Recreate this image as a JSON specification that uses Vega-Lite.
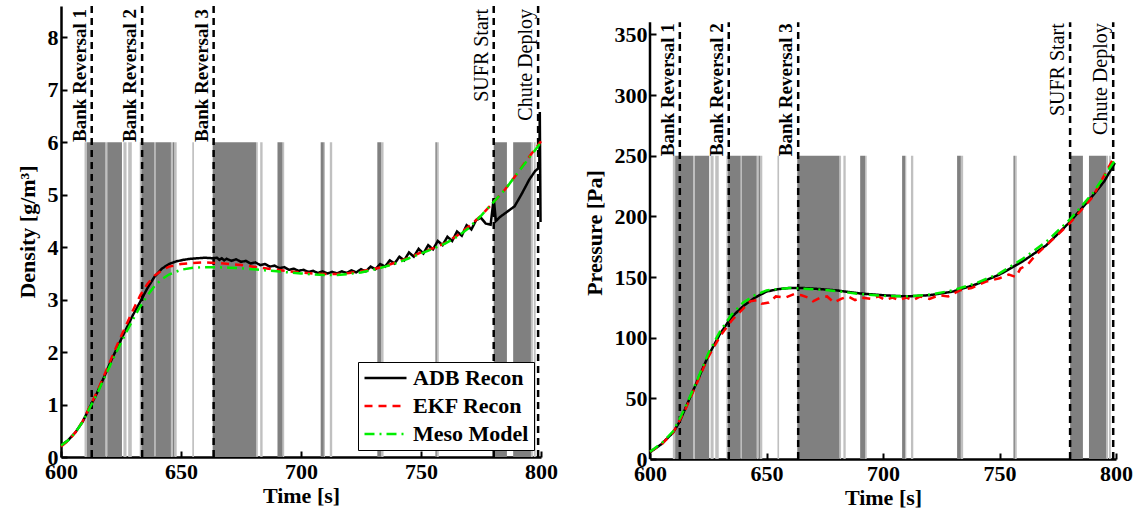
{
  "$schema": "https://vega.github.io/schema/vega-lite/v6.json",
  "background": "white",
  "padding": {"left": 16, "right": 5, "top": 4, "bottom": 5},
  "spacing": 25,
  "config": {
    "view": {"stroke": null},
    "axis": {
      "labelFont": "Liberation Serif", "labelFontWeight": "bold", "labelFontSize": 22, "labelColor": "black",
      "titleFont": "Liberation Serif", "titleFontWeight": "bold", "titleFontSize": 22, "titleColor": "black",
      "domainColor": "black", "domainWidth": 2.5, "tickColor": "black", "tickWidth": 2, "tickSize": -6, "grid": false, "labelFlush": false
    },
    "legend": {
      "labelFont": "Liberation Serif", "labelFontWeight": "bold", "labelFontSize": 22, "labelColor": "black",
      "symbolType": "stroke", "symbolSize": 1764, "symbolStrokeWidth": 2.5, "clipHeight": 22,
      "strokeColor": "black", "fillColor": "white", "padding": 5, "rowPadding": 6, "labelOffset": 5, "labelLimit": 300
    }
  },
  "datasets": {
    "bands": [
      {"t": 609.8, "t2": 610.8, "shade": "light"},
      {"t": 610.8, "t2": 618.5, "shade": "dark"},
      {"t": 618.5, "t2": 619.3, "shade": "light"},
      {"t": 619.3, "t2": 625.4, "shade": "dark"},
      {"t": 626.0, "t2": 627.3, "shade": "light"},
      {"t": 628.0, "t2": 629.5, "shade": "light"},
      {"t": 632.8, "t2": 633.5, "shade": "light"},
      {"t": 633.5, "t2": 638.9, "shade": "dark"},
      {"t": 638.9, "t2": 639.4, "shade": "light"},
      {"t": 639.4, "t2": 645.8, "shade": "dark"},
      {"t": 645.8, "t2": 646.6, "shade": "light"},
      {"t": 646.6, "t2": 647.2, "shade": "dark"},
      {"t": 647.2, "t2": 648.2, "shade": "light"},
      {"t": 654.7, "t2": 655.4, "shade": "light"},
      {"t": 663.2, "t2": 681.3, "shade": "dark"},
      {"t": 681.3, "t2": 682.0, "shade": "light"},
      {"t": 683.0, "t2": 684.0, "shade": "light"},
      {"t": 690.2, "t2": 692.3, "shade": "dark"},
      {"t": 692.3, "t2": 693.0, "shade": "light"},
      {"t": 708.2, "t2": 709.5, "shade": "dark"},
      {"t": 709.5, "t2": 710.0, "shade": "light"},
      {"t": 712.0, "t2": 713.0, "shade": "light"},
      {"t": 731.8, "t2": 733.4, "shade": "dark"},
      {"t": 733.4, "t2": 734.4, "shade": "light"},
      {"t": 756.0, "t2": 756.6, "shade": "dark"},
      {"t": 756.6, "t2": 757.4, "shade": "light"},
      {"t": 780.3, "t2": 785.8, "shade": "dark"},
      {"t": 788.4, "t2": 795.8, "shade": "dark"},
      {"t": 795.8, "t2": 796.6, "shade": "light"},
      {"t": 797.0, "t2": 797.8, "shade": "light"}
    ],
    "events": [
      {"t": 612.8, "label": "Bank Reversal 1", "bold": 1},
      {"t": 633.8, "label": "Bank Reversal 2", "bold": 1},
      {"t": 663.6, "label": "Bank Reversal 3", "bold": 1},
      {"t": 780.3, "label": "SUFR Start", "bold": 0},
      {"t": 798.8, "label": "Chute Deploy", "bold": 0}
    ],
    "dens": [
      {"t": 600, "v": 0.22, "s": "ADB Recon"}, {"t": 603, "v": 0.32, "s": "ADB Recon"}, {"t": 606, "v": 0.47, "s": "ADB Recon"}, {"t": 609, "v": 0.67, "s": "ADB Recon"},
      {"t": 612, "v": 0.95, "s": "ADB Recon"}, {"t": 615, "v": 1.22, "s": "ADB Recon"}, {"t": 618, "v": 1.53, "s": "ADB Recon"}, {"t": 621, "v": 1.85, "s": "ADB Recon"},
      {"t": 624, "v": 2.14, "s": "ADB Recon"}, {"t": 627, "v": 2.43, "s": "ADB Recon"}, {"t": 630, "v": 2.71, "s": "ADB Recon"}, {"t": 633, "v": 2.96, "s": "ADB Recon"},
      {"t": 636, "v": 3.22, "s": "ADB Recon"}, {"t": 639, "v": 3.44, "s": "ADB Recon"}, {"t": 642, "v": 3.59, "s": "ADB Recon"}, {"t": 645, "v": 3.68, "s": "ADB Recon"},
      {"t": 648, "v": 3.73, "s": "ADB Recon"}, {"t": 651, "v": 3.76, "s": "ADB Recon"}, {"t": 654, "v": 3.78, "s": "ADB Recon"}, {"t": 657, "v": 3.79, "s": "ADB Recon"},
      {"t": 660, "v": 3.8, "s": "ADB Recon"}, {"t": 663, "v": 3.79, "s": "ADB Recon"}, {"t": 665, "v": 3.8, "s": "ADB Recon"}, {"t": 666, "v": 3.76, "s": "ADB Recon"},
      {"t": 667, "v": 3.79, "s": "ADB Recon"}, {"t": 668, "v": 3.75, "s": "ADB Recon"}, {"t": 669, "v": 3.78, "s": "ADB Recon"}, {"t": 671, "v": 3.74, "s": "ADB Recon"},
      {"t": 673, "v": 3.77, "s": "ADB Recon"}, {"t": 675, "v": 3.72, "s": "ADB Recon"}, {"t": 677, "v": 3.74, "s": "ADB Recon"}, {"t": 679, "v": 3.69, "s": "ADB Recon"},
      {"t": 681, "v": 3.71, "s": "ADB Recon"}, {"t": 683, "v": 3.66, "s": "ADB Recon"}, {"t": 685, "v": 3.68, "s": "ADB Recon"}, {"t": 687, "v": 3.63, "s": "ADB Recon"},
      {"t": 689, "v": 3.65, "s": "ADB Recon"}, {"t": 691, "v": 3.6, "s": "ADB Recon"}, {"t": 693, "v": 3.62, "s": "ADB Recon"}, {"t": 695, "v": 3.57, "s": "ADB Recon"},
      {"t": 697, "v": 3.59, "s": "ADB Recon"}, {"t": 699, "v": 3.55, "s": "ADB Recon"}, {"t": 701, "v": 3.57, "s": "ADB Recon"}, {"t": 703, "v": 3.53, "s": "ADB Recon"},
      {"t": 705, "v": 3.55, "s": "ADB Recon"}, {"t": 707, "v": 3.51, "s": "ADB Recon"}, {"t": 709, "v": 3.54, "s": "ADB Recon"}, {"t": 711, "v": 3.5, "s": "ADB Recon"},
      {"t": 713, "v": 3.53, "s": "ADB Recon"}, {"t": 715, "v": 3.5, "s": "ADB Recon"}, {"t": 717, "v": 3.54, "s": "ADB Recon"}, {"t": 719, "v": 3.51, "s": "ADB Recon"},
      {"t": 721, "v": 3.56, "s": "ADB Recon"}, {"t": 723, "v": 3.52, "s": "ADB Recon"}, {"t": 725, "v": 3.58, "s": "ADB Recon"}, {"t": 727, "v": 3.54, "s": "ADB Recon"},
      {"t": 729, "v": 3.63, "s": "ADB Recon"}, {"t": 731, "v": 3.58, "s": "ADB Recon"}, {"t": 733, "v": 3.68, "s": "ADB Recon"}, {"t": 735, "v": 3.63, "s": "ADB Recon"},
      {"t": 737, "v": 3.75, "s": "ADB Recon"}, {"t": 739, "v": 3.69, "s": "ADB Recon"}, {"t": 741, "v": 3.82, "s": "ADB Recon"}, {"t": 743, "v": 3.75, "s": "ADB Recon"},
      {"t": 745, "v": 3.9, "s": "ADB Recon"}, {"t": 747, "v": 3.82, "s": "ADB Recon"}, {"t": 749, "v": 3.97, "s": "ADB Recon"}, {"t": 751, "v": 3.88, "s": "ADB Recon"},
      {"t": 753, "v": 4.04, "s": "ADB Recon"}, {"t": 755, "v": 3.96, "s": "ADB Recon"}, {"t": 757, "v": 4.12, "s": "ADB Recon"}, {"t": 759, "v": 4.04, "s": "ADB Recon"},
      {"t": 761, "v": 4.2, "s": "ADB Recon"}, {"t": 763, "v": 4.12, "s": "ADB Recon"}, {"t": 765, "v": 4.3, "s": "ADB Recon"}, {"t": 767, "v": 4.22, "s": "ADB Recon"},
      {"t": 769, "v": 4.42, "s": "ADB Recon"}, {"t": 771, "v": 4.34, "s": "ADB Recon"}, {"t": 773, "v": 4.52, "s": "ADB Recon"}, {"t": 775, "v": 4.56, "s": "ADB Recon"},
      {"t": 777, "v": 4.45, "s": "ADB Recon"}, {"t": 779, "v": 4.43, "s": "ADB Recon"}, {"t": 780.3, "v": 4.93, "s": "ADB Recon"}, {"t": 781.2, "v": 4.5, "s": "ADB Recon"},
      {"t": 783, "v": 4.58, "s": "ADB Recon"}, {"t": 786, "v": 4.68, "s": "ADB Recon"}, {"t": 789, "v": 4.78, "s": "ADB Recon"}, {"t": 792, "v": 5.02, "s": "ADB Recon"},
      {"t": 795, "v": 5.28, "s": "ADB Recon"}, {"t": 797.5, "v": 5.45, "s": "ADB Recon"}, {"t": 799.3, "v": 5.52, "s": "ADB Recon"}, {"t": 799.5, "v": 6.58, "s": "ADB Recon"},
      {"t": 799.8, "v": 4.48, "s": "ADB Recon"},

      {"t": 600, "v": 0.2, "s": "EKF Recon"}, {"t": 603, "v": 0.31, "s": "EKF Recon"}, {"t": 606, "v": 0.47, "s": "EKF Recon"}, {"t": 609, "v": 0.68, "s": "EKF Recon"},
      {"t": 612, "v": 0.96, "s": "EKF Recon"}, {"t": 615, "v": 1.24, "s": "EKF Recon"}, {"t": 618, "v": 1.56, "s": "EKF Recon"}, {"t": 621, "v": 1.88, "s": "EKF Recon"},
      {"t": 624, "v": 2.2, "s": "EKF Recon"}, {"t": 627, "v": 2.5, "s": "EKF Recon"}, {"t": 630, "v": 2.8, "s": "EKF Recon"}, {"t": 633, "v": 3.08, "s": "EKF Recon"},
      {"t": 636, "v": 3.3, "s": "EKF Recon"}, {"t": 639, "v": 3.46, "s": "EKF Recon"}, {"t": 642, "v": 3.56, "s": "EKF Recon"}, {"t": 645, "v": 3.63, "s": "EKF Recon"},
      {"t": 650, "v": 3.68, "s": "EKF Recon"}, {"t": 655, "v": 3.7, "s": "EKF Recon"}, {"t": 660, "v": 3.71, "s": "EKF Recon"}, {"t": 665, "v": 3.7, "s": "EKF Recon"},
      {"t": 670, "v": 3.68, "s": "EKF Recon"}, {"t": 675, "v": 3.66, "s": "EKF Recon"}, {"t": 680, "v": 3.63, "s": "EKF Recon"}, {"t": 685, "v": 3.6, "s": "EKF Recon"},
      {"t": 690, "v": 3.57, "s": "EKF Recon"}, {"t": 695, "v": 3.54, "s": "EKF Recon"}, {"t": 700, "v": 3.52, "s": "EKF Recon"}, {"t": 705, "v": 3.5, "s": "EKF Recon"},
      {"t": 710, "v": 3.49, "s": "EKF Recon"}, {"t": 715, "v": 3.49, "s": "EKF Recon"}, {"t": 720, "v": 3.51, "s": "EKF Recon"}, {"t": 725, "v": 3.54, "s": "EKF Recon"},
      {"t": 730, "v": 3.58, "s": "EKF Recon"}, {"t": 735, "v": 3.64, "s": "EKF Recon"}, {"t": 740, "v": 3.72, "s": "EKF Recon"}, {"t": 745, "v": 3.8, "s": "EKF Recon"},
      {"t": 750, "v": 3.9, "s": "EKF Recon"}, {"t": 755, "v": 3.98, "s": "EKF Recon"}, {"t": 760, "v": 4.08, "s": "EKF Recon"}, {"t": 765, "v": 4.22, "s": "EKF Recon"},
      {"t": 770, "v": 4.4, "s": "EKF Recon"}, {"t": 775, "v": 4.6, "s": "EKF Recon"}, {"t": 780, "v": 4.85, "s": "EKF Recon"}, {"t": 785, "v": 5.1, "s": "EKF Recon"},
      {"t": 790, "v": 5.4, "s": "EKF Recon"}, {"t": 795, "v": 5.72, "s": "EKF Recon"}, {"t": 800, "v": 6.02, "s": "EKF Recon"},

      {"t": 600, "v": 0.22, "s": "Meso Model"}, {"t": 603, "v": 0.32, "s": "Meso Model"}, {"t": 606, "v": 0.47, "s": "Meso Model"}, {"t": 609, "v": 0.67, "s": "Meso Model"},
      {"t": 612, "v": 0.94, "s": "Meso Model"}, {"t": 615, "v": 1.2, "s": "Meso Model"}, {"t": 618, "v": 1.5, "s": "Meso Model"}, {"t": 621, "v": 1.8, "s": "Meso Model"},
      {"t": 624, "v": 2.08, "s": "Meso Model"}, {"t": 627, "v": 2.36, "s": "Meso Model"}, {"t": 630, "v": 2.62, "s": "Meso Model"}, {"t": 633, "v": 2.87, "s": "Meso Model"},
      {"t": 636, "v": 3.08, "s": "Meso Model"}, {"t": 639, "v": 3.26, "s": "Meso Model"}, {"t": 642, "v": 3.39, "s": "Meso Model"}, {"t": 645, "v": 3.48, "s": "Meso Model"},
      {"t": 650, "v": 3.57, "s": "Meso Model"}, {"t": 655, "v": 3.61, "s": "Meso Model"}, {"t": 660, "v": 3.62, "s": "Meso Model"}, {"t": 665, "v": 3.62, "s": "Meso Model"},
      {"t": 670, "v": 3.61, "s": "Meso Model"}, {"t": 675, "v": 3.6, "s": "Meso Model"}, {"t": 680, "v": 3.58, "s": "Meso Model"}, {"t": 685, "v": 3.56, "s": "Meso Model"},
      {"t": 690, "v": 3.54, "s": "Meso Model"}, {"t": 695, "v": 3.52, "s": "Meso Model"}, {"t": 700, "v": 3.5, "s": "Meso Model"}, {"t": 705, "v": 3.48, "s": "Meso Model"},
      {"t": 710, "v": 3.47, "s": "Meso Model"}, {"t": 715, "v": 3.47, "s": "Meso Model"}, {"t": 720, "v": 3.49, "s": "Meso Model"}, {"t": 725, "v": 3.52, "s": "Meso Model"},
      {"t": 730, "v": 3.57, "s": "Meso Model"}, {"t": 735, "v": 3.63, "s": "Meso Model"}, {"t": 740, "v": 3.7, "s": "Meso Model"}, {"t": 745, "v": 3.79, "s": "Meso Model"},
      {"t": 750, "v": 3.88, "s": "Meso Model"}, {"t": 755, "v": 3.97, "s": "Meso Model"}, {"t": 760, "v": 4.07, "s": "Meso Model"}, {"t": 765, "v": 4.2, "s": "Meso Model"},
      {"t": 770, "v": 4.37, "s": "Meso Model"}, {"t": 775, "v": 4.6, "s": "Meso Model"}, {"t": 780, "v": 4.85, "s": "Meso Model"}, {"t": 785, "v": 5.1, "s": "Meso Model"},
      {"t": 790, "v": 5.4, "s": "Meso Model"}, {"t": 795, "v": 5.7, "s": "Meso Model"}, {"t": 800, "v": 6.0, "s": "Meso Model"}
    ],
    "pres": [
      {"t": 600, "v": 5.5, "s": "ADB Recon"}, {"t": 605, "v": 12.4, "s": "ADB Recon"}, {"t": 610, "v": 22, "s": "ADB Recon"}, {"t": 612.5, "v": 30, "s": "ADB Recon"},
      {"t": 615, "v": 41, "s": "ADB Recon"}, {"t": 620, "v": 63, "s": "ADB Recon"}, {"t": 625, "v": 85, "s": "ADB Recon"}, {"t": 630, "v": 103, "s": "ADB Recon"},
      {"t": 635, "v": 117, "s": "ADB Recon"}, {"t": 640, "v": 126, "s": "ADB Recon"}, {"t": 645, "v": 133, "s": "ADB Recon"}, {"t": 650, "v": 138, "s": "ADB Recon"},
      {"t": 655, "v": 140, "s": "ADB Recon"}, {"t": 660, "v": 141, "s": "ADB Recon"}, {"t": 665, "v": 141, "s": "ADB Recon"}, {"t": 670, "v": 140.5, "s": "ADB Recon"},
      {"t": 680, "v": 139, "s": "ADB Recon"}, {"t": 690, "v": 136.5, "s": "ADB Recon"}, {"t": 700, "v": 135, "s": "ADB Recon"}, {"t": 710, "v": 134, "s": "ADB Recon"},
      {"t": 720, "v": 135, "s": "ADB Recon"}, {"t": 730, "v": 138, "s": "ADB Recon"}, {"t": 740, "v": 144, "s": "ADB Recon"}, {"t": 750, "v": 152, "s": "ADB Recon"},
      {"t": 760, "v": 163, "s": "ADB Recon"}, {"t": 770, "v": 176, "s": "ADB Recon"}, {"t": 780, "v": 195, "s": "ADB Recon"}, {"t": 790, "v": 217, "s": "ADB Recon"},
      {"t": 795, "v": 229, "s": "ADB Recon"}, {"t": 799.5, "v": 244, "s": "ADB Recon"},

      {"t": 600, "v": 6, "s": "EKF Recon"}, {"t": 605, "v": 12, "s": "EKF Recon"}, {"t": 610, "v": 22, "s": "EKF Recon"}, {"t": 615, "v": 40, "s": "EKF Recon"},
      {"t": 620, "v": 62, "s": "EKF Recon"}, {"t": 625, "v": 84, "s": "EKF Recon"}, {"t": 630, "v": 101, "s": "EKF Recon"}, {"t": 635, "v": 114, "s": "EKF Recon"},
      {"t": 640, "v": 124, "s": "EKF Recon"}, {"t": 643, "v": 130, "s": "EKF Recon"}, {"t": 646, "v": 131, "s": "EKF Recon"}, {"t": 648, "v": 128, "s": "EKF Recon"},
      {"t": 651, "v": 129, "s": "EKF Recon"}, {"t": 654, "v": 134, "s": "EKF Recon"}, {"t": 658, "v": 133, "s": "EKF Recon"}, {"t": 662, "v": 136, "s": "EKF Recon"},
      {"t": 665, "v": 135, "s": "EKF Recon"}, {"t": 668, "v": 133, "s": "EKF Recon"}, {"t": 670, "v": 130, "s": "EKF Recon"}, {"t": 673, "v": 133, "s": "EKF Recon"},
      {"t": 676, "v": 134, "s": "EKF Recon"}, {"t": 679, "v": 129, "s": "EKF Recon"}, {"t": 682, "v": 132, "s": "EKF Recon"}, {"t": 685, "v": 134, "s": "EKF Recon"},
      {"t": 688, "v": 131, "s": "EKF Recon"}, {"t": 691, "v": 133, "s": "EKF Recon"}, {"t": 695, "v": 132, "s": "EKF Recon"}, {"t": 698, "v": 134, "s": "EKF Recon"},
      {"t": 701, "v": 131, "s": "EKF Recon"}, {"t": 704, "v": 133, "s": "EKF Recon"}, {"t": 707, "v": 131, "s": "EKF Recon"}, {"t": 710, "v": 133, "s": "EKF Recon"},
      {"t": 713, "v": 131, "s": "EKF Recon"}, {"t": 716, "v": 134, "s": "EKF Recon"}, {"t": 720, "v": 132, "s": "EKF Recon"}, {"t": 724, "v": 135, "s": "EKF Recon"},
      {"t": 728, "v": 134, "s": "EKF Recon"}, {"t": 733, "v": 139, "s": "EKF Recon"}, {"t": 738, "v": 141, "s": "EKF Recon"}, {"t": 744, "v": 146, "s": "EKF Recon"},
      {"t": 750, "v": 149, "s": "EKF Recon"}, {"t": 754, "v": 152, "s": "EKF Recon"}, {"t": 757, "v": 150, "s": "EKF Recon"}, {"t": 759, "v": 157, "s": "EKF Recon"},
      {"t": 762, "v": 160, "s": "EKF Recon"}, {"t": 765, "v": 167, "s": "EKF Recon"}, {"t": 770, "v": 176, "s": "EKF Recon"}, {"t": 780, "v": 194, "s": "EKF Recon"},
      {"t": 790, "v": 216, "s": "EKF Recon"}, {"t": 799.5, "v": 250, "s": "EKF Recon"},

      {"t": 600, "v": 6, "s": "Meso Model"}, {"t": 605, "v": 13, "s": "Meso Model"}, {"t": 610, "v": 23, "s": "Meso Model"}, {"t": 615, "v": 42, "s": "Meso Model"},
      {"t": 620, "v": 64, "s": "Meso Model"}, {"t": 625, "v": 87, "s": "Meso Model"}, {"t": 630, "v": 105, "s": "Meso Model"}, {"t": 635, "v": 119, "s": "Meso Model"},
      {"t": 640, "v": 129, "s": "Meso Model"}, {"t": 645, "v": 135, "s": "Meso Model"}, {"t": 650, "v": 139, "s": "Meso Model"}, {"t": 660, "v": 141, "s": "Meso Model"},
      {"t": 670, "v": 140, "s": "Meso Model"}, {"t": 680, "v": 138.5, "s": "Meso Model"}, {"t": 690, "v": 136, "s": "Meso Model"}, {"t": 700, "v": 134.5, "s": "Meso Model"},
      {"t": 710, "v": 134, "s": "Meso Model"}, {"t": 720, "v": 135.5, "s": "Meso Model"}, {"t": 730, "v": 139, "s": "Meso Model"}, {"t": 740, "v": 145, "s": "Meso Model"},
      {"t": 750, "v": 153, "s": "Meso Model"}, {"t": 760, "v": 165, "s": "Meso Model"}, {"t": 770, "v": 179, "s": "Meso Model"}, {"t": 780, "v": 197, "s": "Meso Model"},
      {"t": 790, "v": 219, "s": "Meso Model"}, {"t": 799.5, "v": 246, "s": "Meso Model"}
    ]
  },
  "resolve": {"scale": {"color": "independent", "strokeDash": "independent"}},
  "hconcat": [
    {
      "width": 480,
      "height": 451,
      "layer": [
        {
          "data": {"name": "bands"},
          "transform": [{"filter": "datum.shade == 'light'"}],
          "mark": {"type": "rect", "color": "#c0c0c0"},
          "encoding": {
            "x": {"field": "t", "type": "quantitative", "scale": {"domain": [600, 800], "nice": false, "zero": false}, "axis": {"title": "Time [s]", "values": [600, 650, 700, 750, 800], "labelPadding": 10, "titlePadding": 3}},
            "x2": {"field": "t2"},
            "y": {"datum": 0, "type": "quantitative", "scale": {"domain": [0, 8.6], "nice": false}, "axis": {"title": "Density [g/m³]", "values": [0, 1, 2, 3, 4, 5, 6, 7, 8], "labelPadding": 9, "titlePadding": 8}},
            "y2": {"datum": 6}
          }
        },
        {
          "data": {"name": "bands"},
          "transform": [{"filter": "datum.shade == 'dark'"}],
          "mark": {"type": "rect", "color": "#808080"},
          "encoding": {
            "x": {"field": "t", "type": "quantitative"},
            "x2": {"field": "t2"},
            "y": {"datum": 0, "type": "quantitative"},
            "y2": {"datum": 6}
          }
        },
        {
          "data": {"name": "events"},
          "mark": {"type": "rule", "color": "black", "strokeWidth": 2.5, "strokeDash": [7, 5]},
          "encoding": {"x": {"field": "t", "type": "quantitative"}}
        },
        {
          "data": {"name": "events"},
          "transform": [{"filter": "datum.bold == 1"}],
          "mark": {"type": "text", "angle": 270, "align": "right", "baseline": "bottom", "font": "Liberation Serif", "fontWeight": "bold", "fontSize": 19, "color": "black", "dx": -3, "dy": -2},
          "encoding": {"x": {"field": "t", "type": "quantitative"}, "y": {"datum": 8.6, "type": "quantitative"}, "text": {"field": "label"}}
        },
        {
          "data": {"name": "events"},
          "transform": [{"filter": "datum.bold == 0"}],
          "mark": {"type": "text", "angle": 270, "align": "right", "baseline": "bottom", "font": "Liberation Serif", "fontWeight": "normal", "fontSize": 20, "color": "black", "dx": -3, "dy": -2},
          "encoding": {"x": {"field": "t", "type": "quantitative"}, "y": {"datum": 8.6, "type": "quantitative"}, "text": {"field": "label"}}
        },
        {
          "data": {"name": "dens"},
          "mark": {"type": "line", "strokeWidth": 2.5},
          "encoding": {
            "x": {"field": "t", "type": "quantitative"},
            "y": {"field": "v", "type": "quantitative"},
            "color": {"field": "s", "type": "nominal", "scale": {"domain": ["ADB Recon", "EKF Recon", "Meso Model"], "range": ["#000000", "#ff0000", "#00ee00"]}, "legend": {"title": null, "orient": "bottom-right", "offset": 7}},
            "strokeDash": {"field": "s", "type": "nominal", "scale": {"domain": ["ADB Recon", "EKF Recon", "Meso Model"], "range": [[1, 0], [8, 6], [10, 5, 2, 5]]}, "legend": {"title": null, "orient": "bottom-right", "offset": 7}}
          }
        }
      ]
    },
    {
      "width": 466,
      "height": 453,
      "layer": [
        {
          "data": {"name": "bands"},
          "transform": [{"filter": "datum.shade == 'light'"}],
          "mark": {"type": "rect", "color": "#c0c0c0"},
          "encoding": {
            "x": {"field": "t", "type": "quantitative", "scale": {"domain": [600, 800], "nice": false, "zero": false}, "axis": {"title": "Time [s]", "values": [600, 650, 700, 750, 800], "labelPadding": 10, "titlePadding": 3}},
            "x2": {"field": "t2"},
            "y": {"datum": 0, "type": "quantitative", "scale": {"domain": [0, 373.4], "nice": false}, "axis": {"title": "Pressure [Pa]", "values": [0, 50, 100, 150, 200, 250, 300, 350], "labelPadding": 9, "titlePadding": 8, "domain": false}},
            "y2": {"datum": 250}
          }
        },
        {
          "data": {"name": "bands"},
          "transform": [{"filter": "datum.shade == 'dark'"}],
          "mark": {"type": "rect", "color": "#808080"},
          "encoding": {
            "x": {"field": "t", "type": "quantitative"},
            "x2": {"field": "t2"},
            "y": {"datum": 0, "type": "quantitative"},
            "y2": {"datum": 250}
          }
        },
        {
          "data": {"values": [{"t": 600}]},
          "mark": {"type": "rule", "color": "black", "strokeWidth": 2.5},
          "encoding": {"x": {"field": "t", "type": "quantitative"}, "y": {"datum": 0, "type": "quantitative"}, "y2": {"datum": 360}}
        },
        {
          "data": {"name": "events"},
          "mark": {"type": "rule", "color": "black", "strokeWidth": 2.5, "strokeDash": [7, 5]},
          "encoding": {"x": {"field": "t", "type": "quantitative"}, "y": {"datum": 0, "type": "quantitative"}, "y2": {"datum": 360}}
        },
        {
          "data": {"name": "events"},
          "transform": [{"filter": "datum.bold == 1"}],
          "mark": {"type": "text", "angle": 270, "align": "right", "baseline": "bottom", "font": "Liberation Serif", "fontWeight": "bold", "fontSize": 19, "color": "black", "dx": -1, "dy": -2},
          "encoding": {"x": {"field": "t", "type": "quantitative"}, "y": {"datum": 360, "type": "quantitative"}, "text": {"field": "label"}}
        },
        {
          "data": {"name": "events"},
          "transform": [{"filter": "datum.bold == 0"}],
          "mark": {"type": "text", "angle": 270, "align": "right", "baseline": "bottom", "font": "Liberation Serif", "fontWeight": "normal", "fontSize": 20, "color": "black", "dx": -1, "dy": -2},
          "encoding": {"x": {"field": "t", "type": "quantitative"}, "y": {"datum": 360, "type": "quantitative"}, "text": {"field": "label"}}
        },
        {
          "data": {"name": "pres"},
          "mark": {"type": "line", "strokeWidth": 2.5},
          "encoding": {
            "x": {"field": "t", "type": "quantitative"},
            "y": {"field": "v", "type": "quantitative"},
            "color": {"field": "s", "type": "nominal", "scale": {"domain": ["ADB Recon", "EKF Recon", "Meso Model"], "range": ["#000000", "#ff0000", "#00ee00"]}, "legend": null},
            "strokeDash": {"field": "s", "type": "nominal", "scale": {"domain": ["ADB Recon", "EKF Recon", "Meso Model"], "range": [[1, 0], [8, 6], [10, 5, 2, 5]]}, "legend": null}
          }
        }
      ]
    }
  ]
}
